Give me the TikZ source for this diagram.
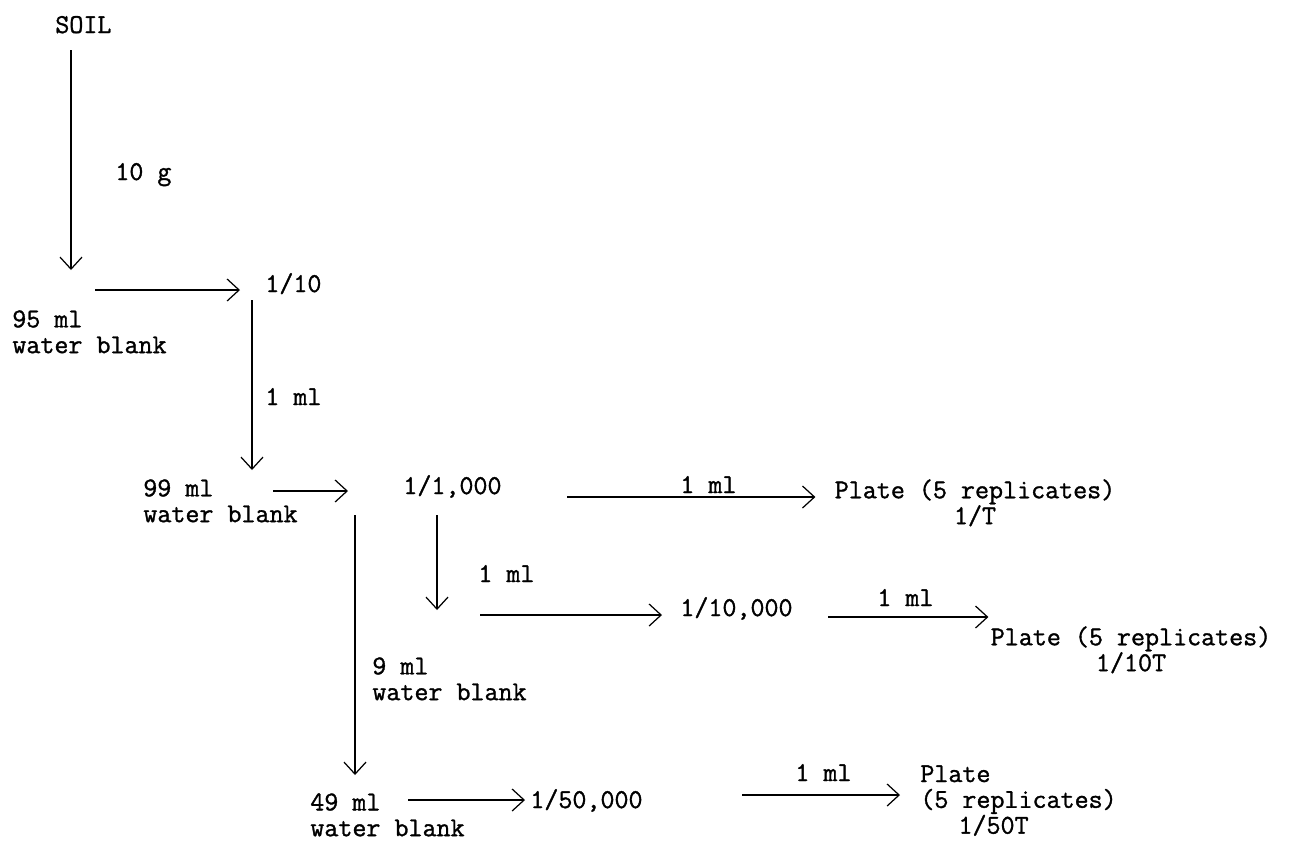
\documentclass[tikz,border=0pt]{standalone}
\usepackage{fontspec}
\setmonofont{Latin Modern Mono}[FakeBold=1.2]
\usepackage{tikz}
\usetikzlibrary{arrows.meta,positioning,calc}

\begin{document}
\begin{tikzpicture}[x=0.02cm, y=-0.02cm]
    \tikzstyle{txt} = [inner sep=0pt, font=\ttfamily\fontsize{15.5}{14.7}\selectfont]
    \tikzstyle{line} = [line width=0.7pt, -{Straight Barb[length=2.4mm, width=4.4mm]}]
    \useasboundingbox (0,0) rectangle (1293,842);

    % Nodes
    \node [txt, anchor=base west] (soil) at (55,33) {SOIL};
    \node [txt, anchor=base west] (lbl_g) at (115,180) {10 g};
    \node [txt, anchor=north west, align=left] (blank95) at (12,310) {95 ml\\water blank};
    \node [txt, anchor=base west] (dil10) at (265,292) {1/10};
    \node [txt, anchor=base west] (lbl_a) at (265,405) {1 ml};
    \node [txt, anchor=north west, align=left] (blank99) at (143,479) {99 ml\\water blank};
    \node [txt, anchor=base west] (dil1k) at (403,494) {1/1,000};
    \node [txt, anchor=base west] (lbl_b) at (680,493) {1 ml};
    \node [txt, anchor=north, align=center] (plate1) at (975,479) {Plate (5 replicates)\\1/T};
    \node [txt, anchor=base west] (lbl_c) at (478,582) {1 ml};
    \node [txt, anchor=base west] (dil10k) at (680,616) {1/10,000};
    \node [txt, anchor=base west] (lbl_d) at (877,606) {1 ml};
    \node [txt, anchor=north, align=center] (plate2) at (1131,626) {Plate (5 replicates)\\1/10T};
    \node [txt, anchor=north west, align=left] (blank9) at (372,657) {9 ml\\water blank};
    \node [txt, anchor=north west, align=left] (blank49) at (310,793) {49 ml\\water blank};
    \node [txt, anchor=base west] (dil50k) at (530,808) {1/50,000};
    \node [txt, anchor=base west] (lbl_e) at (795,781) {1 ml};
    \node [txt, anchor=north west, align=left] (plate3) at (920,765) {Plate\\(5 replicates)\\\hspace*{1.4em}1/50T};

    % Paths
    \draw [line] ($(soil.base west)+(16,17)$) -- ($(blank95.north west)+(59,-40)$);
    \draw [line] ($(blank95.north west)+(83,-20)$) -- ($(dil10.base west)+(-25,-2)$);
    \draw [line] ($(dil10.base west)+(-13,8)$) -- ($(blank99.north west)+(109,-9)$);
    \draw [line] ($(blank99.north west)+(130,12)$) -- ($(dil1k.base west)+(-55,-3)$);
    \draw [line] ($(dil1k.base west)+(164,3)$) -- ($(plate1.north west)+(-19,18)$);
    \draw [line] ($(dil1k.base west)+(34,21)$) -- ($(blank9.north west)+(65,-47)$);
    \draw [line] ($(blank9.north west)+(108,-42)$) -- ($(dil10k.base west)+(-18,-1)$);
    \draw [line] ($(dil10k.base west)+(148,1)$) -- ($(plate2.north west)+(-2,-9)$);
    \draw [line] ($(dil1k.base west)+(-48,21)$) -- ($(blank49.north west)+(45,-18)$);
    \draw [line] ($(blank49.north west)+(98,7)$) -- ($(dil50k.base west)+(-5,-8)$);
    \draw [line] ($(dil50k.base west)+(212,-13)$) -- ($(plate3.north west)+(-20,30)$);
\end{tikzpicture}
\end{document}
